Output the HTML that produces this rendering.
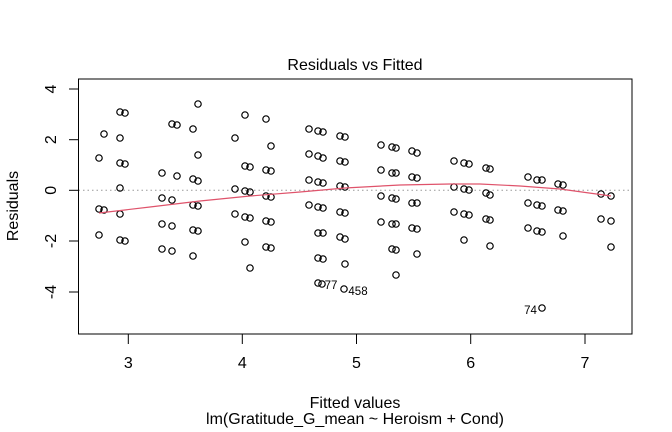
<!DOCTYPE html>
<html><head><meta charset="utf-8"><style>
html,body{margin:0;padding:0;background:#fff}
svg{display:block}
text{font-family:"Liberation Sans",Arial,sans-serif;fill:#000}
</style></head><body>
<svg width="672" height="432" viewBox="0 0 672 432" xmlns="http://www.w3.org/2000/svg">
<rect x="0" y="0" width="672" height="432" fill="#fff"/>
<text x="355" y="70" font-size="16" text-anchor="middle">Residuals vs Fitted</text>
<line x1="78.5" y1="190.3" x2="632" y2="190.3" stroke="#999" stroke-width="1" stroke-dasharray="1.5,3"/>
<g fill="none" stroke="#000" stroke-width="1.2">
<circle cx="99" cy="158" r="3.2"/><circle cx="99" cy="209" r="3.2"/><circle cx="99" cy="235" r="3.2"/>
<circle cx="104" cy="134" r="3.2"/><circle cx="104" cy="210" r="3.2"/>
<circle cx="120" cy="112" r="3.2"/><circle cx="120" cy="138" r="3.2"/><circle cx="120" cy="163" r="3.2"/><circle cx="120" cy="188" r="3.2"/><circle cx="120" cy="214" r="3.2"/><circle cx="120" cy="240" r="3.2"/>
<circle cx="125" cy="113" r="3.2"/><circle cx="125" cy="164" r="3.2"/><circle cx="125" cy="241" r="3.2"/>
<circle cx="162" cy="173" r="3.2"/><circle cx="162" cy="198" r="3.2"/><circle cx="162" cy="224" r="3.2"/><circle cx="162" cy="249" r="3.2"/>
<circle cx="172" cy="124" r="3.2"/><circle cx="172" cy="200" r="3.2"/><circle cx="172" cy="226" r="3.2"/><circle cx="172" cy="251" r="3.2"/>
<circle cx="177" cy="125" r="3.2"/><circle cx="177" cy="176" r="3.2"/>
<circle cx="193" cy="129" r="3.2"/><circle cx="193" cy="179" r="3.2"/><circle cx="193" cy="205" r="3.2"/><circle cx="193" cy="230" r="3.2"/><circle cx="193" cy="256" r="3.2"/>
<circle cx="198" cy="104" r="3.2"/><circle cx="198" cy="155" r="3.2"/><circle cx="198" cy="181" r="3.2"/><circle cx="198" cy="206" r="3.2"/><circle cx="198" cy="231" r="3.2"/>
<circle cx="235" cy="138" r="3.2"/><circle cx="235" cy="189" r="3.2"/><circle cx="235" cy="214" r="3.2"/>
<circle cx="245" cy="115" r="3.2"/><circle cx="245" cy="166" r="3.2"/><circle cx="245" cy="191" r="3.2"/><circle cx="245" cy="217" r="3.2"/><circle cx="245" cy="242" r="3.2"/>
<circle cx="250" cy="167" r="3.2"/><circle cx="250" cy="192" r="3.2"/><circle cx="250" cy="218" r="3.2"/><circle cx="250" cy="268" r="3.2"/>
<circle cx="266" cy="119" r="3.2"/><circle cx="266" cy="170" r="3.2"/><circle cx="266" cy="196" r="3.2"/><circle cx="266" cy="221" r="3.2"/><circle cx="266" cy="247" r="3.2"/>
<circle cx="271" cy="146" r="3.2"/><circle cx="271" cy="171" r="3.2"/><circle cx="271" cy="197" r="3.2"/><circle cx="271" cy="222" r="3.2"/><circle cx="271" cy="248" r="3.2"/>
<circle cx="309" cy="129" r="3.2"/><circle cx="309" cy="154" r="3.2"/><circle cx="309" cy="180" r="3.2"/><circle cx="309" cy="205" r="3.2"/>
<circle cx="318" cy="131" r="3.2"/><circle cx="318" cy="156" r="3.2"/><circle cx="318" cy="182" r="3.2"/><circle cx="318" cy="207" r="3.2"/><circle cx="318" cy="233" r="3.2"/><circle cx="318" cy="258" r="3.2"/><circle cx="318" cy="283" r="3.2"/>
<circle cx="323" cy="132" r="3.2"/><circle cx="323" cy="158" r="3.2"/><circle cx="323" cy="183" r="3.2"/><circle cx="323" cy="208" r="3.2"/><circle cx="323" cy="233" r="3.2"/><circle cx="323" cy="259" r="3.2"/><circle cx="322" cy="284" r="3.2"/>
<circle cx="340" cy="136" r="3.2"/><circle cx="340" cy="161" r="3.2"/><circle cx="340" cy="186" r="3.2"/><circle cx="340" cy="212" r="3.2"/><circle cx="340" cy="237" r="3.2"/>
<circle cx="345" cy="137" r="3.2"/><circle cx="345" cy="162" r="3.2"/><circle cx="345" cy="187" r="3.2"/><circle cx="345" cy="213" r="3.2"/><circle cx="345" cy="239" r="3.2"/><circle cx="345" cy="264" r="3.2"/><circle cx="344" cy="289" r="3.2"/>
<circle cx="381" cy="145" r="3.2"/><circle cx="381" cy="170" r="3.2"/><circle cx="381" cy="196" r="3.2"/><circle cx="381" cy="222" r="3.2"/>
<circle cx="392" cy="147" r="3.2"/><circle cx="392" cy="173" r="3.2"/><circle cx="392" cy="198" r="3.2"/><circle cx="392" cy="224" r="3.2"/><circle cx="392" cy="249" r="3.2"/>
<circle cx="396" cy="148" r="3.2"/><circle cx="396" cy="173" r="3.2"/><circle cx="396" cy="199" r="3.2"/><circle cx="396" cy="224" r="3.2"/><circle cx="396" cy="250" r="3.2"/><circle cx="396" cy="275" r="3.2"/>
<circle cx="412" cy="151" r="3.2"/><circle cx="412" cy="177" r="3.2"/><circle cx="412" cy="203" r="3.2"/><circle cx="412" cy="228" r="3.2"/>
<circle cx="417" cy="153" r="3.2"/><circle cx="417" cy="178" r="3.2"/><circle cx="417" cy="203" r="3.2"/><circle cx="417" cy="229" r="3.2"/><circle cx="417" cy="254" r="3.2"/>
<circle cx="454" cy="161" r="3.2"/><circle cx="454" cy="187" r="3.2"/><circle cx="454" cy="212" r="3.2"/>
<circle cx="464" cy="163" r="3.2"/><circle cx="464" cy="189" r="3.2"/><circle cx="464" cy="214" r="3.2"/><circle cx="464" cy="240" r="3.2"/>
<circle cx="469" cy="164" r="3.2"/><circle cx="469" cy="190" r="3.2"/><circle cx="469" cy="215" r="3.2"/>
<circle cx="486" cy="168" r="3.2"/><circle cx="486" cy="193" r="3.2"/><circle cx="486" cy="219" r="3.2"/>
<circle cx="490" cy="169" r="3.2"/><circle cx="490" cy="195" r="3.2"/><circle cx="490" cy="220" r="3.2"/><circle cx="490" cy="246" r="3.2"/>
<circle cx="528" cy="177" r="3.2"/><circle cx="528" cy="203" r="3.2"/><circle cx="528" cy="228" r="3.2"/>
<circle cx="537" cy="180" r="3.2"/><circle cx="537" cy="205" r="3.2"/><circle cx="537" cy="231" r="3.2"/>
<circle cx="542" cy="180" r="3.2"/><circle cx="542" cy="206" r="3.2"/><circle cx="542" cy="232" r="3.2"/><circle cx="542" cy="308" r="3.2"/>
<circle cx="558" cy="184" r="3.2"/><circle cx="558" cy="210" r="3.2"/>
<circle cx="563" cy="185" r="3.2"/><circle cx="563" cy="211" r="3.2"/><circle cx="563" cy="236" r="3.2"/>
<circle cx="601" cy="194" r="3.2"/><circle cx="601" cy="219" r="3.2"/>
<circle cx="611" cy="196" r="3.2"/><circle cx="611" cy="221" r="3.2"/><circle cx="611" cy="247" r="3.2"/>
</g>
<polyline fill="none" stroke="#df536b" stroke-width="1.2" points="99,213 150,207 200,201 250,196 300,192 345,188 400,185 450,184 480,184 520,186 560,189 611,196"/>
<text x="331" y="289" font-size="11.5" text-anchor="middle">77</text>
<text x="358" y="295" font-size="11.5" text-anchor="middle">458</text>
<text x="530.5" y="314" font-size="11.5" text-anchor="middle">74</text>
<rect x="78.5" y="79" width="553.5" height="255" fill="none" stroke="#000" stroke-width="1"/>
<g stroke="#000" stroke-width="1">
<line x1="128.3" y1="334" x2="128.3" y2="344"/><line x1="242.3" y1="334" x2="242.3" y2="344"/><line x1="356.5" y1="334" x2="356.5" y2="344"/><line x1="470.7" y1="334" x2="470.7" y2="344"/><line x1="585" y1="334" x2="585" y2="344"/>
<line x1="69" y1="89" x2="78.5" y2="89"/><line x1="69" y1="139.7" x2="78.5" y2="139.7"/><line x1="69" y1="190.3" x2="78.5" y2="190.3"/><line x1="69" y1="241" x2="78.5" y2="241"/><line x1="69" y1="292" x2="78.5" y2="292"/>
</g>
<g font-size="16" text-anchor="middle">
<text x="128.3" y="368">3</text><text x="242.3" y="368">4</text><text x="356.5" y="368">5</text><text x="470.7" y="368">6</text><text x="585" y="368">7</text>
<text transform="translate(56,89) rotate(-90)">4</text>
<text transform="translate(56,139.7) rotate(-90)">2</text>
<text transform="translate(56,190.3) rotate(-90)">0</text>
<text transform="translate(56,241) rotate(-90)">-2</text>
<text transform="translate(56,292) rotate(-90)">-4</text>
<text transform="translate(18,206) rotate(-90)">Residuals</text>
<text x="355" y="408">Fitted values</text>
<text x="355" y="424">lm(Gratitude_G_mean ~ Heroism + Cond)</text>
</g>
</svg>
</body></html>
